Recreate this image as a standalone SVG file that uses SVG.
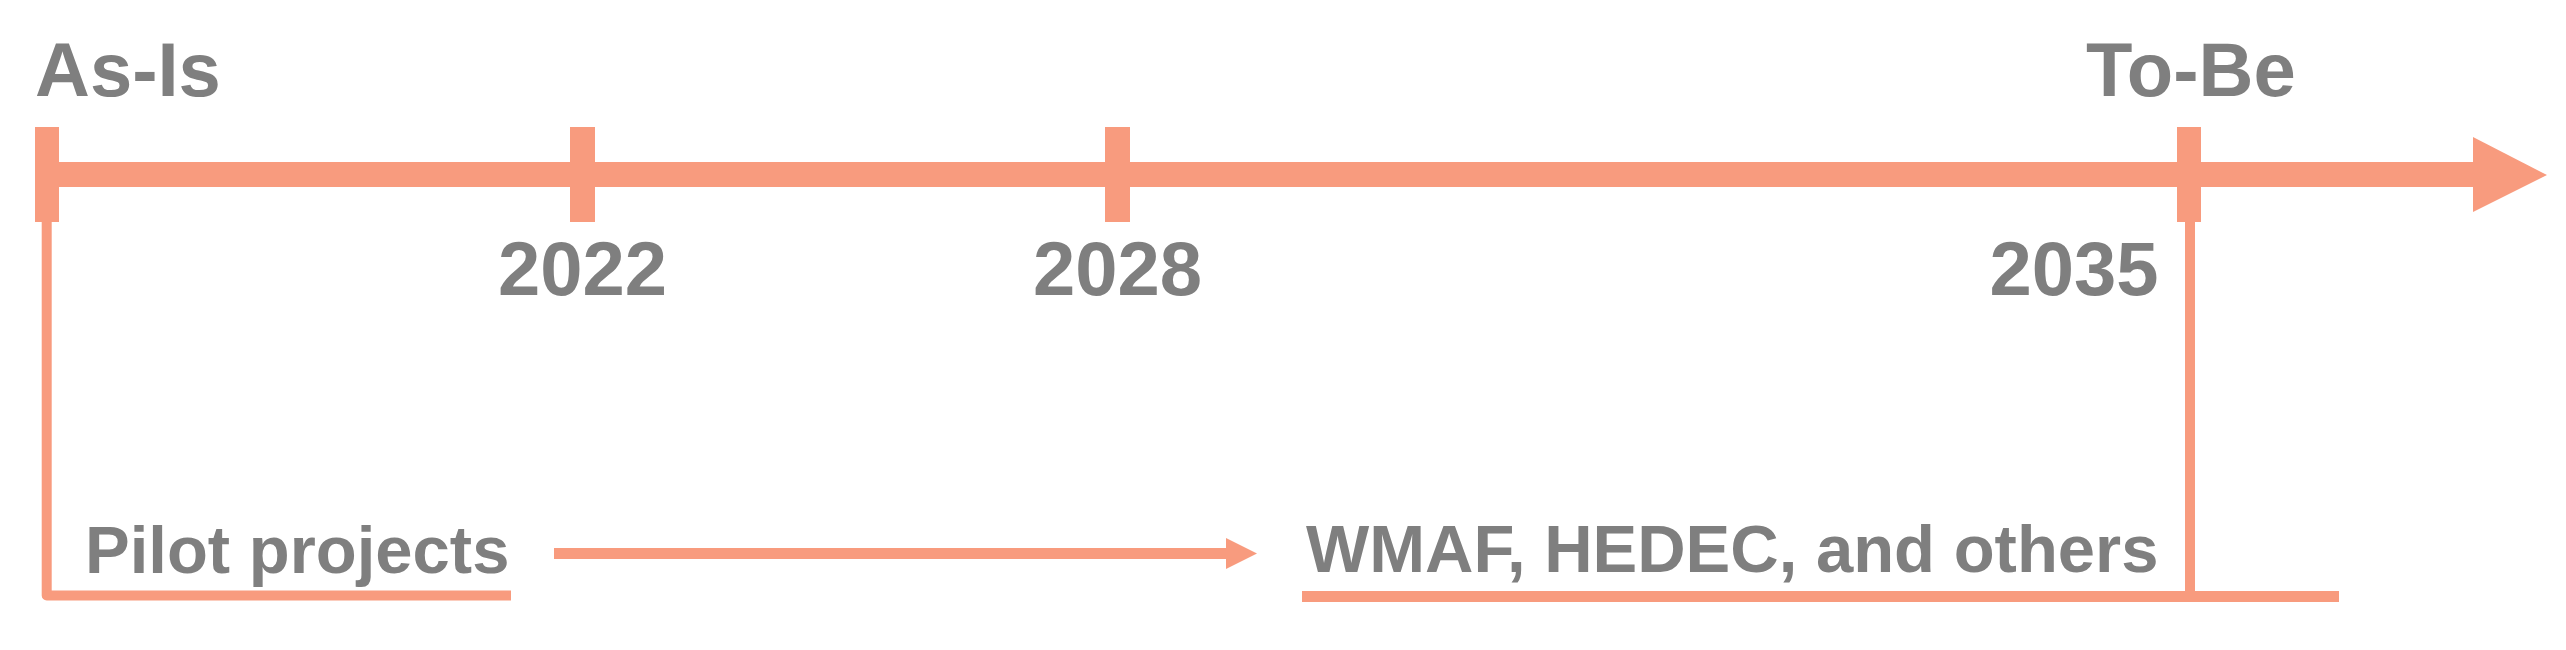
<svg xmlns="http://www.w3.org/2000/svg" width="2566" height="650" viewBox="0 0 2566 650">
<style>
.lbl{font-family:"Liberation Sans",Arial,sans-serif;font-weight:bold;fill:#7f7f7f}
.big{font-size:76px}
.mid{font-size:67px}
.ln{fill:none;stroke:#f89b7e;stroke-width:10}
.sal{fill:#f89b7e}
</style>
<rect width="2566" height="650" fill="#ffffff"/>
<g id="timeline">
<rect class="sal" x="35" y="162" width="2440" height="25"/>
<polygon class="sal" points="2473,137 2547,175 2473,212"/>
</g>
<g id="tick-asis"><rect class="sal" x="35" y="127" width="24" height="95"/></g>
<g id="tick-2022"><rect class="sal" x="570" y="127" width="25" height="95"/><text class="lbl big" x="582.5" y="295" text-anchor="middle">2022</text></g>
<g id="tick-2028"><rect class="sal" x="1105" y="127" width="25" height="95"/><text class="lbl big" x="1117.5" y="295" text-anchor="middle">2028</text></g>
<g id="tick-2035"><rect class="sal" x="2177" y="127" width="24" height="95"/><text class="lbl big" x="2074" y="295" text-anchor="middle">2035</text></g>
<g id="label-asis"><text class="lbl big" x="35" y="96">As-Is</text></g>
<g id="label-tobe"><text class="lbl big" x="2086" y="96">To-Be</text></g>
<g id="node-pilot"><text class="lbl mid" x="85" y="573">Pilot projects</text></g>
<g id="node-wmaf"><text class="lbl mid" x="1306" y="572">WMAF, HEDEC, and others</text></g>
<g id="connectors">
<path class="ln" d="M46.7 222 V595.5 H511" stroke-linejoin="round"/>
<line class="ln" x1="554" y1="553.5" x2="1228" y2="553.5" style="stroke-width:11"/>
<polygon class="sal" points="1226,538 1257,553.5 1226,569"/>
<line class="ln" x1="1302" y1="596.5" x2="2339" y2="596.5" style="stroke-width:11"/>
<line class="ln" x1="2190" y1="222" x2="2190" y2="592"/>
</g>
</svg>
